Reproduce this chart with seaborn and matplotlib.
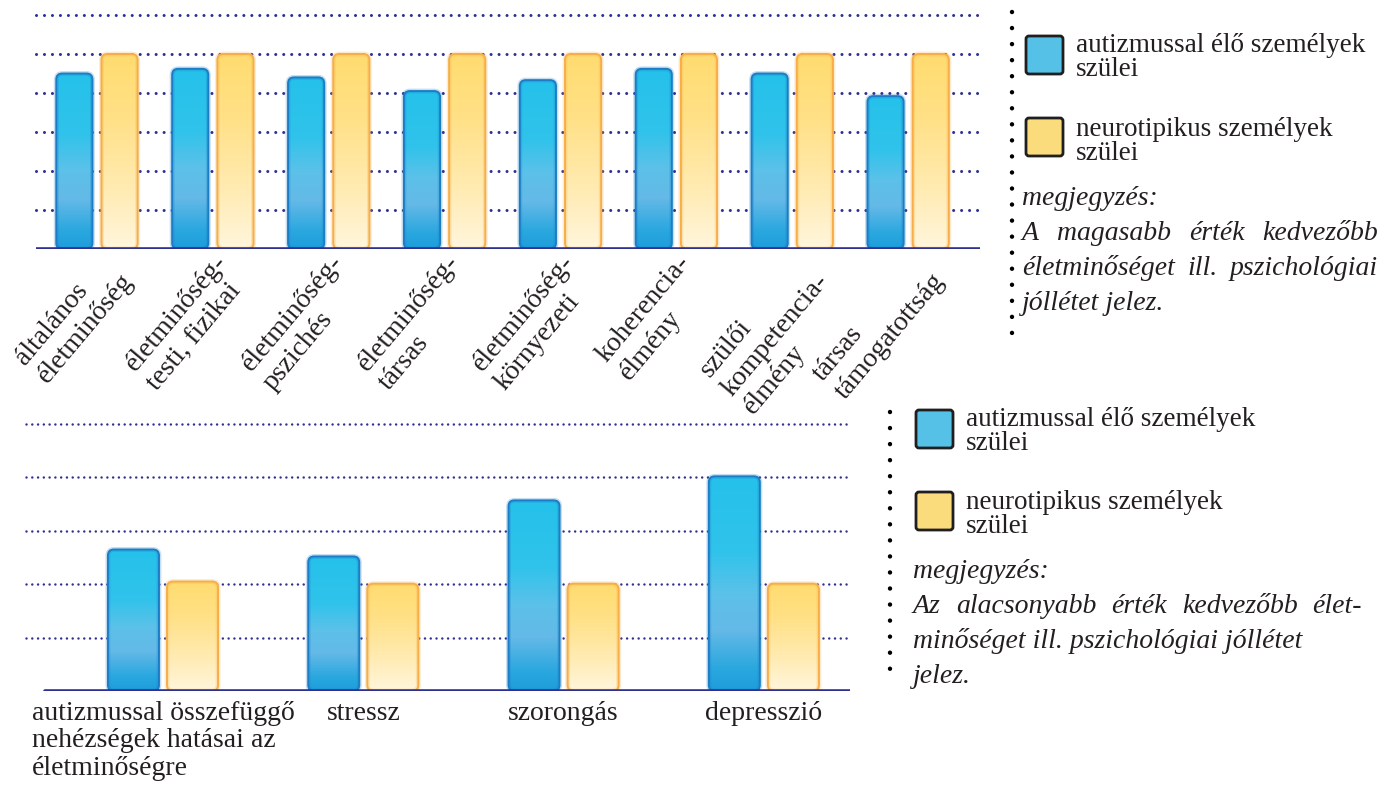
import numpy as np
import pandas as pd
import matplotlib
matplotlib.use("Agg")
import matplotlib.pyplot as plt
import seaborn as sns
from matplotlib.patches import FancyBboxPatch
from matplotlib.colors import LinearSegmentedColormap

# values
groups = ["autizmussal élő személyek szülei", "neurotipikus személyek szülei"]

top_labels = ["általános\néletminőség", "életminőség-\ntesti, fizikai", "életminőség-\npszichés",
              "életminőség-\ntársas", "életminőség-\nkörnyezeti", "koherencia-\nélmény",
              "szülői\nkompetencia-\nélmény", "társas\ntámogatottság"]
top_autism = [4.50, 4.62, 4.40, 4.05, 4.33, 4.62, 4.50, 3.92]
top_neuro = [5.0, 5.0, 5.0, 5.0, 5.0, 5.0, 5.0, 5.0]

bottom_labels = ["autizmussal összefüggő\nnehézségek hatásai az\néletminőségre",
                 "stressz", "szorongás", "depresszió"]
bottom_autism = [2.65, 2.52, 3.57, 4.02]
bottom_neuro = [2.05, 2.01, 2.01, 2.01]

legend_lines = [["autizmussal élő személyek", "szülei"], ["neurotipikus személyek", "szülei"]]
note_title = "megjegyzés:"
top_note = ["A magasabb érték kedvezőbb", "életminőséget ill. pszichológiai", "jóllétet jelez."]
bottom_note = ["Az alacsonyabb érték kedvezőbb élet-", "minőséget ill. pszichológiai jóllétet", "jelez."]

BLUE = "#56c1e6"
YELLOW = "#fadc7c"
NAVY = "#2e3192"
INK = "#231f20"
SERIF = ["Liberation Serif", "DejaVu Serif"]

sns.set_style("white")
plt.rcParams["font.family"] = SERIF

blue_cmap = LinearSegmentedColormap.from_list(
    "blue", [(0, "#1e9ddb"), (0.1, "#29a7df"), (0.28, "#64b9e7"), (0.45, "#5cc1e9"),
             (0.65, "#30c3eb"), (1, "#25c1ea")])
yellow_cmap = LinearSegmentedColormap.from_list(
    "yellow", [(0, "#fff6dd"), (0.3, "#ffebb3"), (0.7, "#ffe084"), (1, "#ffdc70")])

fig = plt.figure(figsize=(13.99, 7.87), dpi=100)


def long_frame(labels, a, b):
    n = len(labels)
    return pd.DataFrame({"cat": labels * 2,
                         "group": [groups[0]] * n + [groups[1]] * n,
                         "value": a + b})


def gradient_bars(ax, container, cmap, edge):
    # swap each flat seaborn bar for a rounded box filled with a vertical gradient
    bb = ax.get_window_extent()
    x0, x1 = ax.get_xlim()
    y0, y1 = ax.get_ylim()
    ppx = bb.width / (x1 - x0)
    ppy = bb.height / (y1 - y0)
    grad = np.linspace(0, 1, 256).reshape(-1, 1)
    for bar in container.patches:
        x, y = bar.get_x(), bar.get_y()
        w, h = bar.get_width(), bar.get_height()
        bar.set_visible(False)
        r = 6 / ppx
        style = f"round,pad=0,rounding_size={r}"
        glow = FancyBboxPatch((x, y), w, h, boxstyle=style, mutation_aspect=ppx / ppy,
                              fc="none", ec=edge, lw=3.5, alpha=0.25, zorder=2.5)
        box = FancyBboxPatch((x, y), w, h, boxstyle=style, mutation_aspect=ppx / ppy,
                             fc="none", ec=edge, lw=1.4, zorder=3)
        ax.add_patch(glow)
        ax.add_patch(box)
        im = ax.imshow(grad, cmap=cmap, extent=(x, x + w, y, y + h), origin="lower",
                       aspect="auto", zorder=2)
        im.set_clip_path(box)


def draw_panel(ax, labels, a, b, xlim, ylim, width, gap, dot_lw, dot_gap, base_start=0.0):
    df = long_frame(labels, a, b)
    sns.barplot(data=df, x="cat", y="value", hue="group", palette=[BLUE, YELLOW],
                width=width, gap=gap, errorbar=None, legend=False, ax=ax)
    ax.set_xlim(*xlim)
    ax.set_ylim(*ylim)
    for y in range(1, int(round(ylim[1])) + 1):
        ax.axhline(y, color=NAVY, lw=dot_lw, ls=(0, (0.01, dot_gap)),
                   dash_capstyle="round", zorder=0.5, clip_on=False)
    ax.axhline(0, xmin=base_start, color=NAVY, lw=2.6, zorder=4)
    sns.despine(ax=ax, left=True, bottom=True)
    ax.set_yticks([])
    ax.set_xlabel("")
    ax.set_ylabel("")
    ax.tick_params(axis="x", length=0)
    gradient_bars(ax, ax.containers[0], blue_cmap, "#1c7dc6")
    gradient_bars(ax, ax.containers[1], yellow_cmap, "#f7ae48")
    ax.set_xlim(*xlim)
    ax.set_ylim(*ylim)
    ax.set_xticks(range(len(labels)))


# top chart
ax1 = fig.add_axes([36 / 1399, 538 / 787, 944 / 1399, 234 / 787])
draw_panel(ax1, top_labels, top_autism, top_neuro, (-0.526, 7.62), (0, 6),
           width=0.78, gap=0.2, dot_lw=2.2, dot_gap=2.6)
ax1.set_xticklabels(top_labels, rotation=50, ha="right", va="top", rotation_mode="anchor",
                    multialignment="left", fontsize=20, linespacing=1.2, color=INK)
ax1.tick_params(axis="x", pad=1)

# bottom chart
ax2 = fig.add_axes([26 / 1399, 96 / 787, 824 / 1399, 267 / 787])
draw_panel(ax2, bottom_labels, bottom_autism, bottom_neuro, (-0.684, 3.43), (0, 5),
           width=0.59, gap=0.136, dot_lw=1.8, dot_gap=2.3, base_start=0.023)
ax2.set_xticklabels(bottom_labels, ha="center", va="top", multialignment="left",
                    fontsize=20, linespacing=1.13, color=INK)
ax2.tick_params(axis="x", pad=7)

# overlay in pixel coordinates for legends and notes
lay = fig.add_axes([0, 0, 1, 1])
lay.set_xlim(0, 1399)
lay.set_ylim(787, 0)
lay.axis("off")

fig.canvas.draw()
renderer = fig.canvas.get_renderer()


def justify(line, x0, x1, y, **kw):
    words = line.split()
    texts = [lay.text(0, y, w, va="baseline", **kw) for w in words]
    widths = [t.get_window_extent(renderer).width for t in texts]
    space = (x1 - x0 - sum(widths)) / (len(words) - 1)
    x = x0
    for t, wd in zip(texts, widths):
        t.set_x(x)
        x += wd + space


def side_panel(sep_x, sep_y, box_x, box_ys, text_x, text_ys, note_x, note_ys, note, just_right, n_just):
    lay.plot([sep_x, sep_x], sep_y, color="black", lw=3.2, ls=(0, (0.01, 3.6)),
             dash_capstyle="round")
    for by, col in zip(box_ys, [BLUE, YELLOW]):
        lay.add_patch(FancyBboxPatch((box_x, by), 37, 38, boxstyle="round,pad=0,rounding_size=3",
                                     fc=col, ec="#1f1f1f", lw=2))
    for lines, ys in zip(legend_lines, text_ys):
        for txt, ty in zip(lines, ys):
            lay.text(text_x, ty, txt, va="baseline", fontsize=19.5, color=INK)
    lay.text(note_x, note_ys[0], note_title, va="baseline", fontsize=20, style="italic",
             color=INK)
    for i, (line, ny) in enumerate(zip(note, note_ys[1:])):
        if i < n_just:
            justify(line, note_x, just_right, ny, fontsize=20, style="italic", color=INK)
        else:
            lay.text(note_x, ny, line, va="baseline", fontsize=20, style="italic", color=INK)


side_panel(1012, [12, 336], 1026, [36, 118], 1076, [[52, 76], [136, 160]],
           1022, [205, 240, 275, 310], top_note, 1378, 2)
side_panel(890, [412, 684], 916, [410, 492], 966, [[426, 450], [509, 533]],
           913, [578, 613, 648, 683], bottom_note, 1362, 1)

fig.savefig("out.png", dpi=100, facecolor="white")
